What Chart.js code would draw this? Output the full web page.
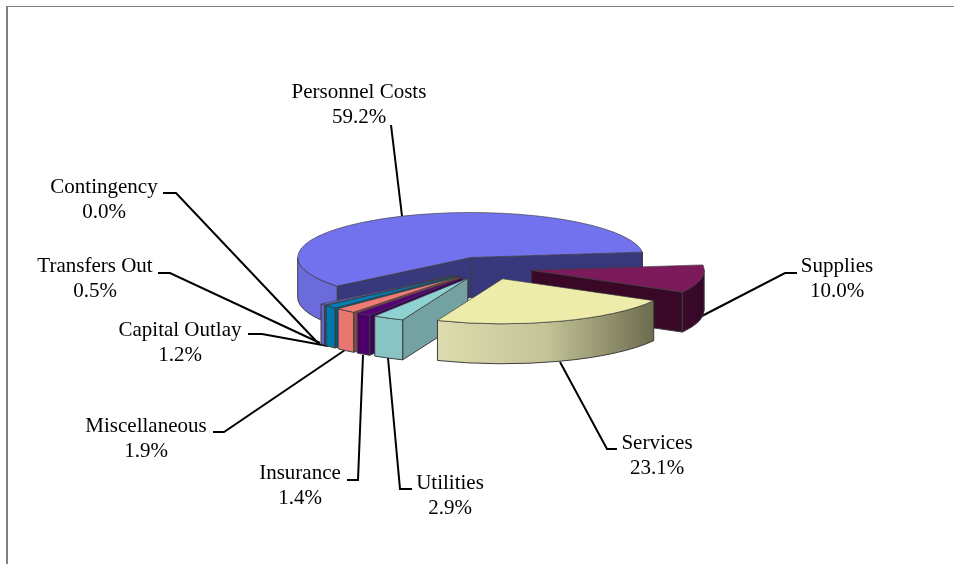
<!DOCTYPE html>
<html>
<head>
<meta charset="utf-8">
<title>Expenditures by category</title>
<script src="https://cdn.jsdelivr.net/npm/chart.js@4"></script>
<style>
    html, body { margin: 0; padding: 0; background: #fff; overflow: hidden; }
    #frame { position: absolute; left: 6px; top: 6px; right: 0; bottom: 0; border-top: 1px solid #808080; border-left: 2px solid #808080; }
    #grafica { position: absolute; left: 0; top: 0; }
</style>
</head>
<body>
<div id="frame"></div>
<canvas id="grafica" width="954" height="564"></canvas>
<script>
const categories = ['Personnel Costs', 'Supplies', 'Services', 'Utilities', 'Insurance', 'Miscellaneous', 'Capital Outlay', 'Transfers Out', 'Contingency'];
const shares = [59.2, 10.0, 23.1, 2.9, 1.4, 1.9, 1.2, 0.5, 0.0];

// top face, then outer wall stops (left to right), then the cut faces
const topColors = ['#7272ee', '#7c1a5c', '#eeecaa', '#8fd2d2', '#550078', '#f07a74', '#0080b4', '#6c6cdc', '#000050'];
const wallColors = [
    ['#6c6cde', '#6a6ad8'], ['#3c0a2c', '#340626'], ['#dcdcae', '#c4c498', '#6c6c4e'],
    ['#88c4c4', '#88c4c4'], ['#4c006c', '#4c006c'], ['#ea7670', '#ea7670'],
    ['#0078aa', '#0078aa'], ['#6464cc', '#6464cc'], ['#000040', '#000040']
];
const faceColors = ['#38387c', '#380826', '#8c8c64', '#74a2a2', '#3c0058', '#8a4a46', '#005c80', '#40408c', '#000030'];

// label anchor (centre of the text block) and the leader line running to the slice
const labelSpots = [
    { x: 359, y: 92, line: [[391, 125], [402, 216]] },
    { x: 837, y: 266, line: [[797, 273], [785, 273], [700, 317]] },
    { x: 657, y: 443, line: [[617, 449], [607, 449], [560, 362]] },
    { x: 450, y: 483, line: [[412, 489], [400, 489], [388, 358]] },
    { x: 300, y: 473, line: [[347, 480], [358, 480], [363, 355]] },
    { x: 146, y: 426, line: [[213, 432], [224, 432], [345, 350]] },
    { x: 180, y: 330, line: [[248, 334], [262, 334], [328, 346]] },
    { x: 95, y: 266, line: [[158, 273], [170, 273], [320, 343]] },
    { x: 104, y: 187, line: [[163, 193], [176, 193], [318, 343]] }
];

const TILT = 0.26;      // vertical squash of the pie
const DEPTH = 40;       // wall height
const EXPLODE = 44;     // every slice is pulled out by this much
const LINE_GAP = 25;    // name to percentage
const EDGE = '#3c3c3c';

// back to front
const drawOrder = [0, 1, 8, 7, 6, 5, 4, 3, 2];

function sliceCentre(arc) {
    const mid = (arc.startAngle + arc.endAngle) / 2;
    return {
        x: arc.x + EXPLODE * Math.cos(mid),
        y: arc.y + EXPLODE * TILT * Math.sin(mid)
    };
}

function drawFace(ctx, c, r, angle, color) {
    const ex = c.x + r * Math.cos(angle);
    const ey = c.y + r * TILT * Math.sin(angle);
    ctx.beginPath();
    ctx.moveTo(c.x, c.y);
    ctx.lineTo(ex, ey);
    ctx.lineTo(ex, ey + DEPTH);
    ctx.lineTo(c.x, c.y + DEPTH);
    ctx.closePath();
    ctx.fillStyle = color;
    ctx.fill();
    ctx.stroke();
}

// outer wall only shows on the front half of the ellipse
function drawWall(ctx, c, r, start, end, stops) {
    for (let k = -1; k < 3; k++) {
        const from = Math.max(start, k * 2 * Math.PI);
        const to = Math.min(end, k * 2 * Math.PI + Math.PI);
        if (to <= from) continue;
        const x1 = c.x + r * Math.cos(from);
        const x2 = c.x + r * Math.cos(to);
        const grad = ctx.createLinearGradient(Math.min(x1, x2), 0, Math.max(x1, x2), 0);
        stops.forEach((s, i) => grad.addColorStop(i / (stops.length - 1), s));
        ctx.beginPath();
        ctx.ellipse(c.x, c.y, r, r * TILT, 0, from, to);
        ctx.ellipse(c.x, c.y + DEPTH, r, r * TILT, 0, to, from, true);
        ctx.closePath();
        ctx.fillStyle = grad;
        ctx.fill();
        ctx.stroke();
    }
}

const pie3d = {
    id: 'pie3d',
    // the doughnut controller would draw flat arcs, so they are drawn here instead
    beforeDatasetsDraw(chart) {
        const ctx = chart.ctx;
        const arcs = chart.getDatasetMeta(0).data;

        ctx.save();
        ctx.strokeStyle = '#000';
        ctx.lineWidth = 2;
        labelSpots.forEach(spot => {
            ctx.beginPath();
            spot.line.forEach((p, i) => i ? ctx.lineTo(p[0], p[1]) : ctx.moveTo(p[0], p[1]));
            ctx.stroke();
        });
        ctx.restore();

        drawOrder.forEach(i => {
            const arc = arcs[i];
            if (arc.circumference === 0) return;
            const c = sliceCentre(arc);
            const r = arc.outerRadius;

            ctx.save();
            ctx.strokeStyle = EDGE;
            ctx.lineWidth = 1;
            // cut faces: only the ones turned towards the viewer
            if (Math.cos(arc.startAngle) < 0) drawFace(ctx, c, r, arc.startAngle, faceColors[i]);
            if (Math.cos(arc.endAngle) > 0) drawFace(ctx, c, r, arc.endAngle, faceColors[i]);
            drawWall(ctx, c, r, arc.startAngle, arc.endAngle, wallColors[i]);
            ctx.restore();

            // top face is the library's own arc, squashed and moved out
            ctx.save();
            ctx.translate(c.x, c.y);
            ctx.scale(1, TILT);
            ctx.translate(-arc.x, -arc.y);
            arc.draw(ctx);
            ctx.restore();
        });

        ctx.save();
        ctx.fillStyle = '#000';
        ctx.font = '21px "Liberation Serif"';
        ctx.textAlign = 'center';
        ctx.textBaseline = 'middle';
        categories.forEach((name, i) => {
            ctx.fillText(name, labelSpots[i].x, labelSpots[i].y);
            ctx.fillText(shares[i].toFixed(1) + '%', labelSpots[i].x, labelSpots[i].y + LINE_GAP);
        });
        ctx.restore();
        return false;
    }
};

new Chart(document.getElementById('grafica').getContext('2d'), {
    type: 'pie',
    data: {
        labels: categories,
        datasets: [{
            data: shares,
            backgroundColor: topColors,
            borderColor: EDGE,
            borderWidth: 1,
            radius: 173,
            rotation: 230.5
        }]
    },
    options: {
        responsive: false,
        animation: false,
        events: [],
        layout: { padding: { left: 22, bottom: 28 } },
        plugins: { legend: { display: false }, tooltip: { enabled: false } }
    },
    plugins: [pie3d]
});
</script>
</body>
</html>
